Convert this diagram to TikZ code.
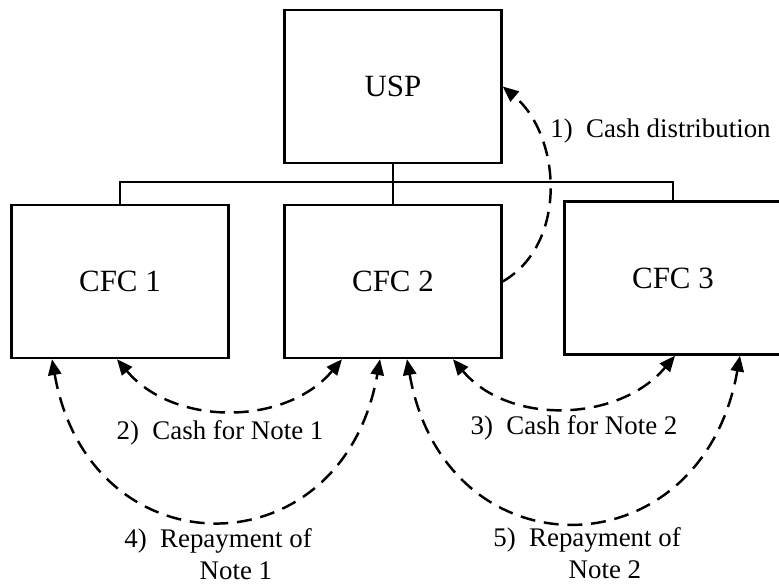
\documentclass[tikz,border=0pt]{standalone}
\usepackage{fontspec}
\setmainfont{Liberation Serif}
\usepackage{tikz}
\usetikzlibrary{arrows.meta,positioning}

\tikzset{
  entity/.style={draw, line width=1.4pt, minimum width=4.34cm, minimum height=3.06cm,
    inner sep=0pt, font=\fontsize{17.6}{21}\selectfont},
  owns/.style={line width=1.4pt},
  flow/.style={line width=1.4pt, dash pattern=on 8.5pt off 5pt,
    >={Triangle[length=9pt,width=7.5pt]}},
  lbl/.style={inner sep=0pt, font=\fontsize{15.3}{18.1}\selectfont}
}

\begin{document}
\begin{tikzpicture}[x=0.02cm, y=-0.02cm]
    \useasboundingbox (0,0) rectangle (779,584);
    % Entities
    \node [entity] (usp) at (393,86.5) {USP};
    \node [entity] (cfc1) at (120,281.5) {CFC 1};
    \node [entity] (cfc2) at (393,281.5) {CFC 2};
    \node [entity] (cfc3) at (673,278) {CFC 3};
    % Ownership tree
    \coordinate (bus) at (393,182);
    \draw [owns] (usp.south) -- (bus) -- (cfc2.north);
    \draw [owns] (cfc1.north) |- (bus) -| (cfc3.north);
    % Cash flows
    \draw [flow, ->] (cfc2.east) to[out=30, in=-40] (usp.east);
    \draw [flow, <->] ([xshift=-0.06cm]cfc1.south) to[out=-50, in=-130] ([xshift=-1.02cm]cfc2.south);
    \draw [flow, <->] ([xshift=1.2cm]cfc2.south) to[out=-50, in=-130] ([xshift=0.04cm]cfc3.south);
    \draw [flow, <->] ([xshift=-1.36cm]cfc1.south) to[out=-80, in=-100, looseness=1.7] ([xshift=-0.26cm]cfc2.south);
    \draw [flow, <->] ([xshift=0.28cm]cfc2.south) to[out=-80, in=-100, looseness=1.7] ([xshift=1.34cm]cfc3.south);
    % Labels
    \node [lbl, anchor=base west] (dist) at (550,138) {1)\enskip Cash distribution};
    \node [lbl, anchor=base] (note1cash) at (220,440) {2)\enskip Cash for Note 1};
    \node [lbl, anchor=base] (note2cash) at (574,435) {3)\enskip Cash for Note 2};
    \node [lbl, anchor=base west] (note1pay) at (124,548)
        {\begin{tabular}[t]{@{}l@{\enskip}c@{}}4) & Repayment of\\ & Note 1\end{tabular}};
    \node [lbl, anchor=base west] (note2pay) at (493,547)
        {\begin{tabular}[t]{@{}l@{\enskip}c@{}}5) & Repayment of\\ & Note 2\end{tabular}};
\end{tikzpicture}
\end{document}
